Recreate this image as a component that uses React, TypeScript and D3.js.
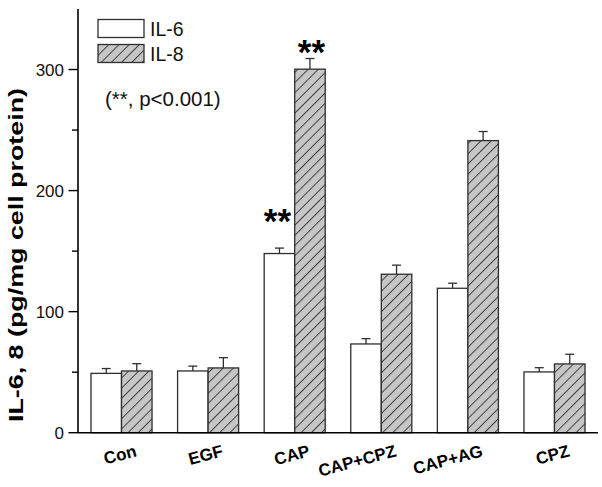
import React from "react";
import * as d3 from "d3";

const categories = ["Con", "EGF", "CAP", "CAP+CPZ", "CAP+AG", "CPZ"];
const il6 = [49, 51, 148, 73.3, 119.3, 50.2];
const il6Err = [4, 4, 4.5, 4.4, 4.2, 3.5];
const il8 = [51, 53.5, 300.3, 130.9, 241.3, 56.8];
const il8Err = [6, 8.5, 8.8, 7.5, 7.5, 8];
const sig6 = ["", "", "**", "", "", ""];
const sig8 = ["", "", "**", "", "", ""];
const yTicks = [0, 100, 200, 300];
const yMinorTicks = [50, 150, 250];
const seriesNames = ["IL-6", "IL-8"];

const W = 602;
const H = 487;
const left = 78;
const right = 598;
const top = 9;
const bottom = 432.7;

export default function App() {
  const x = d3
    .scaleBand<string>()
    .domain(categories)
    .range([left, right])
    .paddingInner(0.295)
    .paddingOuter(0.15);
  const sub = d3.scaleBand<string>().domain(seriesNames).range([0, x.bandwidth()]);
  const y = d3.scaleLinear().domain([0, 350]).range([bottom, top]);
  const font = "'Liberation Sans', Arial, sans-serif";
  const stroke = "#2e2e2e";

  const series = [
    { name: "IL-6", vals: il6, errs: il6Err, sig: sig6, fill: "#ffffff", starDy: -15, starDx: -2 },
    { name: "IL-8", vals: il8, errs: il8Err, sig: sig8, fill: "url(#hatch)", starDy: 5.5, starDx: 1.5 },
  ];

  const c15 = Math.cos((15 * Math.PI) / 180);
  const s15 = Math.sin((15 * Math.PI) / 180);

  return (
    <>
      <style>{`body{margin:0}`}</style>
      <svg width={W} height={H} style={{ display: "block", background: "#fff" }} fontFamily={font}>
        <defs>
          <pattern
            id="hatch"
            patternUnits="userSpaceOnUse"
            width={7.2}
            height={7.2}
            patternTransform="rotate(45)"
          >
            <rect width={7.2} height={7.2} fill="#c6c6c6" />
            <line x1={0.5} y1={0} x2={0.5} y2={7.2} stroke="#333" strokeWidth={0.9} />
          </pattern>
        </defs>

        {series.map((s) =>
          categories.map((c, i) => {
            const bx = (x(c) as number) + (sub(s.name) as number);
            const bw = sub.bandwidth();
            const yt = y(s.vals[i]);
            const ye = y(s.vals[i] + s.errs[i]);
            const cx = bx + bw / 2;
            return (
              <g key={s.name + c}>
                <rect
                  x={bx}
                  y={yt}
                  width={bw}
                  height={bottom - yt}
                  fill={s.fill}
                  stroke={stroke}
                  strokeWidth={1.3}
                />
                <line x1={cx} x2={cx} y1={yt} y2={ye} stroke={stroke} strokeWidth={1.3} />
                <line x1={cx - 4.5} x2={cx + 4.5} y1={ye} y2={ye} stroke={stroke} strokeWidth={1.3} />
                {s.sig[i] && (
                  <text
                    x={cx + s.starDx}
                    y={ye + s.starDy}
                    textAnchor="middle"
                    fontSize={35}
                    fontWeight="bold"
                    fill="#000"
                  >
                    {s.sig[i]}
                  </text>
                )}
              </g>
            );
          })
        )}

        {/* axes */}
        <line x1={left} x2={left} y1={top} y2={bottom} stroke="#000" strokeWidth={1.6} />
        <line x1={left} x2={right} y1={bottom} y2={bottom} stroke="#000" strokeWidth={1.6} />
        {yTicks.map((t) => (
          <g key={"t" + t}>
            <line x1={left - 9.5} x2={left} y1={y(t)} y2={y(t)} stroke="#000" strokeWidth={1.4} />
            <text
              x={left - 14}
              y={y(t)}
              dy="0.36em"
              textAnchor="end"
              fontSize={17}
              fill="#111"
            >
              {t}
            </text>
          </g>
        ))}
        {yMinorTicks.map((t) => (
          <line key={"m" + t} x1={left - 6} x2={left} y1={y(t)} y2={y(t)} stroke="#000" strokeWidth={1.4} />
        ))}

        {categories.map((c) => {
          const cx = (x(c) as number) + x.bandwidth() / 2 + 16;
          return (
            <text
              key={"xl" + c}
              transform={`matrix(${c15},${-s15},${s15},${c15},${cx},456)`}
              textAnchor="end"
              fontSize={17}
              fontWeight="bold"
              fill="#000"
            >
              {c}
            </text>
          );
        })}

        <g transform="translate(23,255) rotate(-90)">
          <text
            x={0}
            y={0}
            textAnchor="middle"
            fontSize={21}
            fontWeight="bold"
            fill="#000"
            textLength={334}
            lengthAdjust="spacingAndGlyphs"
          >
            IL-6, 8 (pg/mg cell protein)
          </text>
        </g>

        {/* legend */}
        <rect x={98} y={19.5} width={46} height={18} fill="#fff" stroke={stroke} strokeWidth={1.3} />
        <rect x={98} y={44.5} width={46} height={18} fill="url(#hatch)" stroke={stroke} strokeWidth={1.3} />
        <text x={150} y={36} fontSize={19.5} fill="#111">
          {seriesNames[0]}
        </text>
        <text x={150} y={61} fontSize={19.5} fill="#111">
          {seriesNames[1]}
        </text>
        <text x={105} y={105.5} fontSize={20.5} fill="#111">
          (**, p&lt;0.001)
        </text>
      </svg>
    </>
  );
}
